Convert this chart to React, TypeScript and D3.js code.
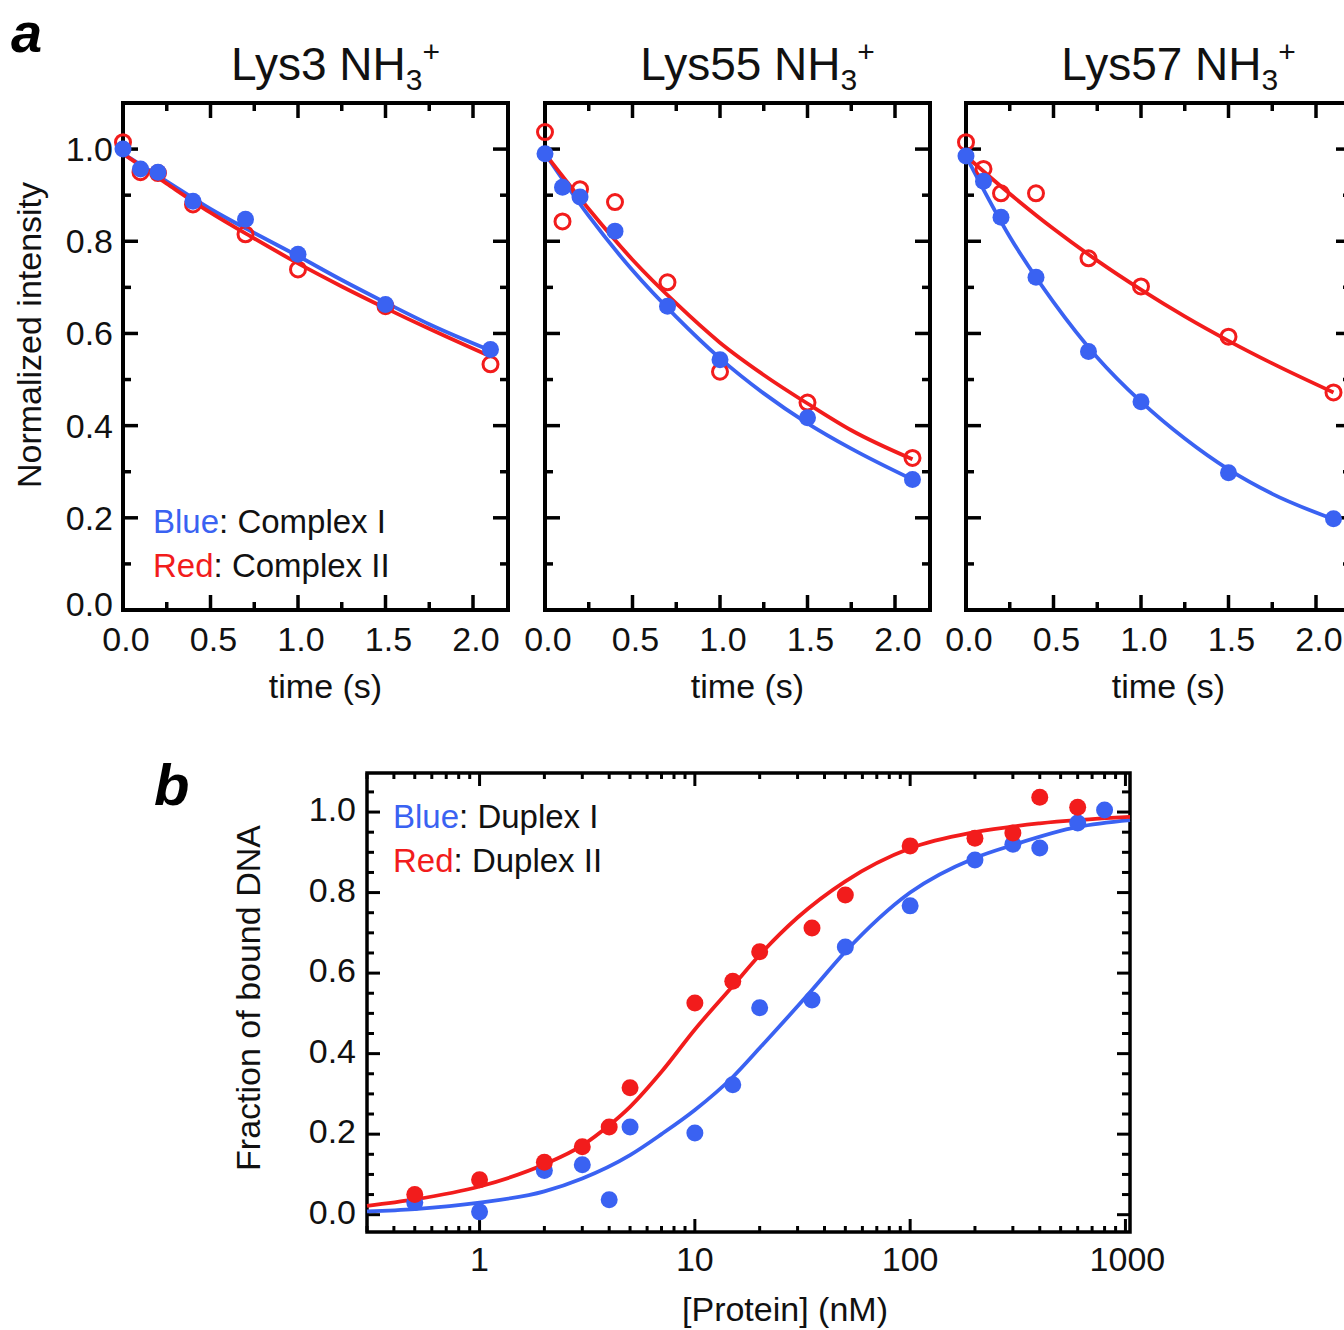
import React, { useEffect, useRef } from 'react'
import * as d3 from 'd3'

// ---- panel a: intensity decay of the three lysine NH3+ groups ----
const residues = ['Lys3', 'Lys55', 'Lys57']
const times = [0, 0.1, 0.2, 0.4, 0.7, 1.0, 1.5, 2.1]
const fitTimes = [0, 0.25, 0.5, 0.75, 1.0, 1.25, 1.5, 1.75, 2.1]

const lys3Blue = [1.0, 0.957, 0.95, 0.887, 0.848, 0.772, 0.663, 0.565]
const lys3Red = [1.015, 0.95, 0.948, 0.88, 0.815, 0.739, 0.659, 0.533]
const lys55Blue = [0.99, 0.917, 0.896, 0.822, 0.659, 0.543, 0.417, 0.283]
const lys55Red = [1.037, 0.843, 0.913, 0.885, 0.711, 0.517, 0.45, 0.33]
const lys57Blue = [0.985, 0.93, 0.852, 0.722, 0.561, 0.452, 0.298, 0.198]
const lys57Red = [1.015, 0.957, 0.904, 0.904, 0.763, 0.702, 0.593, 0.472]

const lys3BlueFit = [0.99, 0.93, 0.87, 0.818, 0.768, 0.716, 0.667, 0.62, 0.563]
const lys3RedFit = [0.99, 0.925, 0.862, 0.806, 0.752, 0.702, 0.655, 0.61, 0.55]
const lys55BlueFit = [0.99, 0.855, 0.737, 0.636, 0.546, 0.47, 0.405, 0.35, 0.283]
const lys55RedFit = [0.99, 0.87, 0.76, 0.665, 0.58, 0.51, 0.448, 0.39, 0.327]
const lys57BlueFit = [0.985, 0.81, 0.668, 0.548, 0.452, 0.372, 0.305, 0.252, 0.197]
const lys57RedFit = [0.985, 0.903, 0.827, 0.758, 0.695, 0.637, 0.584, 0.535, 0.472]

const aXTicks = [0, 0.5, 1.0, 1.5, 2.0]
const aXMinor = [0.25, 0.75, 1.25, 1.75]
const aYTicks = [0, 0.2, 0.4, 0.6, 0.8, 1.0]
const aYMinor = [0.1, 0.3, 0.5, 0.7, 0.9]

// ---- panel b: binding curves ----
const concBlue = [0.5, 1, 2, 3, 4, 5, 10, 15, 20, 35, 50, 100, 200, 300, 400, 600, 800]
const fracBlue = [0.03, 0.007, 0.11, 0.124, 0.037, 0.218, 0.203, 0.323, 0.514, 0.533, 0.665, 0.767, 0.881, 0.92, 0.911, 0.973, 1.005]
const concRed = [0.5, 1, 2, 3, 4, 5, 10, 15, 20, 35, 50, 100, 200, 300, 400, 600]
const fracRed = [0.05, 0.087, 0.13, 0.169, 0.218, 0.315, 0.526, 0.58, 0.653, 0.712, 0.794, 0.916, 0.935, 0.948, 1.037, 1.012]

const fitConcBlue = [0.3, 0.5, 1, 2, 3, 5, 7, 10, 15, 20, 35, 50, 100, 200, 300, 600, 1050]
const fitBlue = [0.008, 0.014, 0.03, 0.058, 0.09, 0.148, 0.2, 0.26, 0.342, 0.414, 0.558, 0.653, 0.8, 0.886, 0.918, 0.963, 0.98]
const fitConcRed = [0.3, 0.5, 1, 2, 3, 4, 5, 7, 10, 15, 20, 30, 50, 100, 200, 400, 1050]
const fitRed = [0.022, 0.038, 0.07, 0.125, 0.172, 0.222, 0.268, 0.355, 0.46, 0.568, 0.645, 0.738, 0.828, 0.91, 0.95, 0.972, 0.988]

const bXTicks = [1, 10, 100, 1000]
const bYTicks = [0, 0.2, 0.4, 0.6, 0.8, 1.0]

const BLUE = '#3a62f2'
const RED = '#f21c1c'
const FONT = "'Liberation Sans', Arial, Helvetica, sans-serif"

const App = () => {
  const ref = useRef<SVGSVGElement>(null)

  useEffect(() => {
    const svg = d3.select(ref.current)
    svg.selectAll('*').remove()

    const text = (x, y, s, size, anchor = 'middle') =>
      svg.append('text').attr('x', x).attr('y', y).attr('text-anchor', anchor)
        .attr('font-family', FONT).attr('font-size', size).attr('fill', '#111').text(s)

    // ======== panel a ========
    const aLeft = [123, 545, 966]
    const aTop = 103, aW = 385, aH = 507
    const series = [
      [lys3Blue, lys3Red, lys3BlueFit, lys3RedFit],
      [lys55Blue, lys55Red, lys55BlueFit, lys55RedFit],
      [lys57Blue, lys57Red, lys57BlueFit, lys57RedFit],
    ]

    svg.append('text')
      .attr('x', 11).attr('y', 52)
      .attr('font-family', FONT).attr('font-size', 56)
      .attr('font-weight', 'bold').attr('font-style', 'italic')
      .text('a')

    residues.forEach((name, i) => {
      const x = d3.scaleLinear().domain([0, 2.2]).range([0, aW])
      const y = d3.scaleLinear().domain([0, 1.1]).range([aH, 0])
      const g = svg.append('g').attr('transform', `translate(${aLeft[i]},${aTop})`)

      // frame
      g.append('rect').attr('width', aW).attr('height', aH)
        .attr('fill', 'none').attr('stroke', '#000').attr('stroke-width', 4)

      const tick = (x1, y1, x2, y2) =>
        g.append('line').attr('x1', x1).attr('y1', y1).attr('x2', x2).attr('y2', y2)
          .attr('stroke', '#000').attr('stroke-width', 3.5)

      aXTicks.forEach(t => { tick(x(t), aH, x(t), aH - 15); tick(x(t), 0, x(t), 15) })
      aXMinor.forEach(t => { tick(x(t), aH, x(t), aH - 8); tick(x(t), 0, x(t), 8) })
      aYTicks.forEach(v => { tick(0, y(v), 15, y(v)); tick(aW, y(v), aW - 15, y(v)) })
      aYMinor.forEach(v => { tick(0, y(v), 8, y(v)); tick(aW, y(v), aW - 8, y(v)) })

      // x tick labels
      aXTicks.forEach(t => {
        text(aLeft[i] + x(t) + 3, aTop + aH + 41, d3.format('.1f')(t), 34)
      })
      if (i === 0) {
        aYTicks.forEach(v => {
          text(aLeft[i] - 10, aTop + y(v) + 12 - (v === 0 ? 6 : 0), d3.format('.1f')(v), 34, 'end')
        })
      }
      text(aLeft[i] + aW / 2 + 10, 698, 'time (s)', 34)

      // title with sub/superscript
      const title = svg.append('text')
        .attr('x', aLeft[i] + aW / 2 + 20).attr('y', 80)
        .attr('text-anchor', 'middle').attr('font-family', FONT).attr('font-size', 46).attr('fill', '#111')
      title.append('tspan').text(`${name} NH`)
      title.append('tspan').attr('font-size', 30).attr('dy', 10).text('3')
      title.append('tspan').attr('font-size', 30).attr('dy', -28).text('+')

      const [blue, red, blueFit, redFit] = series[i]
      const line = d3.line<number>().x((_, k) => x(fitTimes[k])).y(d => y(d)).curve(d3.curveMonotoneX)

      g.append('path').attr('d', line(blueFit)).attr('fill', 'none').attr('stroke', BLUE).attr('stroke-width', 3.8)
      g.append('path').attr('d', line(redFit)).attr('fill', 'none').attr('stroke', RED).attr('stroke-width', 3.8)

      g.selectAll('.red').data(red).enter().append('circle')
        .attr('cx', (_, k) => x(times[k])).attr('cy', d => y(d)).attr('r', 7.5)
        .attr('fill', 'none').attr('stroke', RED).attr('stroke-width', 3)
      g.selectAll('.blue').data(blue).enter().append('circle')
        .attr('cx', (_, k) => x(times[k])).attr('cy', d => y(d)).attr('r', 8.5)
        .attr('fill', BLUE)
    })

    // y label panel a
    svg.append('text')
      .attr('transform', 'translate(41,335) rotate(-90)')
      .attr('text-anchor', 'middle').attr('font-family', FONT).attr('font-size', 34).attr('fill', '#111')
      .text('Normalized intensity')

    // legend panel a
    const legA = [['Blue', ': Complex I', BLUE, 533], ['Red', ': Complex II', RED, 577]]
    legA.forEach(([c, s, col, yy]) => {
      const t = svg.append('text').attr('x', 153).attr('y', yy)
        .attr('font-family', FONT).attr('font-size', 33).attr('fill', '#111')
      t.append('tspan').attr('fill', col).text(c)
      t.append('tspan').text(s)
    })

    // ======== panel b ========
    const bx = d3.scaleLog().domain([0.3, 1050]).range([367, 1130])
    const by = d3.scaleLinear().domain([-0.043, 1.097]).range([1232, 773])

    svg.append('text')
      .attr('x', 154).attr('y', 805)
      .attr('font-family', FONT).attr('font-size', 58)
      .attr('font-weight', 'bold').attr('font-style', 'italic')
      .text('b')

    svg.append('rect').attr('x', 367).attr('y', 773).attr('width', 1130 - 367).attr('height', 1232 - 773)
      .attr('fill', 'none').attr('stroke', '#000').attr('stroke-width', 3.5)

    const btick = (x1, y1, x2, y2) =>
      svg.append('line').attr('x1', x1).attr('y1', y1).attr('x2', x2).attr('y2', y2)
        .attr('stroke', '#000').attr('stroke-width', 3)

    const bXMinor = [0.1, 1, 10, 100].flatMap(d => d3.range(2, 10).map(m => m * d))
      .filter(v => v > 0.3 && v < 1050)
    bXTicks.forEach(v => { btick(bx(v), 1232, bx(v), 1219); btick(bx(v), 773, bx(v), 786) })
    bXMinor.forEach(v => { btick(bx(v), 1232, bx(v), 1226); btick(bx(v), 773, bx(v), 779) })

    const bYMinor = d3.range(1, 22).map(k => k * 0.05).filter(v => Math.abs(v * 5 - Math.round(v * 5)) > 0.01)
    bYTicks.forEach(v => { btick(367, by(v), 380, by(v)); btick(1130, by(v), 1117, by(v)) })
    bYMinor.forEach(v => { btick(367, by(v), 374, by(v)); btick(1130, by(v), 1122, by(v)) })

    bXTicks.forEach(v => text(bx(v) + (v === 1000 ? 2 : 0), 1271, String(v), 34))
    bYTicks.forEach(v => text(356, by(v) + 9, d3.format('.1f')(v), 34, 'end'))

    text(785, 1321, '[Protein] (nM)', 34)
    svg.append('text')
      .attr('transform', 'translate(260,998) rotate(-90)')
      .attr('text-anchor', 'middle').attr('font-family', FONT).attr('font-size', 34).attr('fill', '#111')
      .text('Fraction of bound DNA')

    const bLine = (conc: number[]) => d3.line<number>()
      .x((_, k) => bx(conc[k])).y(d => by(d)).curve(d3.curveMonotoneX)

    svg.append('path').attr('d', bLine(fitConcBlue)(fitBlue))
      .attr('fill', 'none').attr('stroke', BLUE).attr('stroke-width', 3.8)
    svg.append('path').attr('d', bLine(fitConcRed)(fitRed))
      .attr('fill', 'none').attr('stroke', RED).attr('stroke-width', 3.8)

    svg.append('g').selectAll('circle').data(fracBlue).enter().append('circle')
      .attr('cx', (_, k) => bx(concBlue[k])).attr('cy', d => by(d)).attr('r', 8.5).attr('fill', BLUE)
    svg.append('g').selectAll('circle').data(fracRed).enter().append('circle')
      .attr('cx', (_, k) => bx(concRed[k])).attr('cy', d => by(d)).attr('r', 8.5).attr('fill', RED)

    const legB = [['Blue', ': Duplex I', BLUE, 828], ['Red', ': Duplex II', RED, 872]]
    legB.forEach(([c, s, col, yy]) => {
      const t = svg.append('text').attr('x', 393).attr('y', yy)
        .attr('font-family', FONT).attr('font-size', 33).attr('fill', '#111')
      t.append('tspan').attr('fill', col).text(c)
      t.append('tspan').text(s)
    })
  }, [])

  return (
    <svg ref={ref} width={1344} height={1330}
      style={{ position: 'absolute', left: 0, top: 0, background: '#fff' }} />
  )
}

export default App
